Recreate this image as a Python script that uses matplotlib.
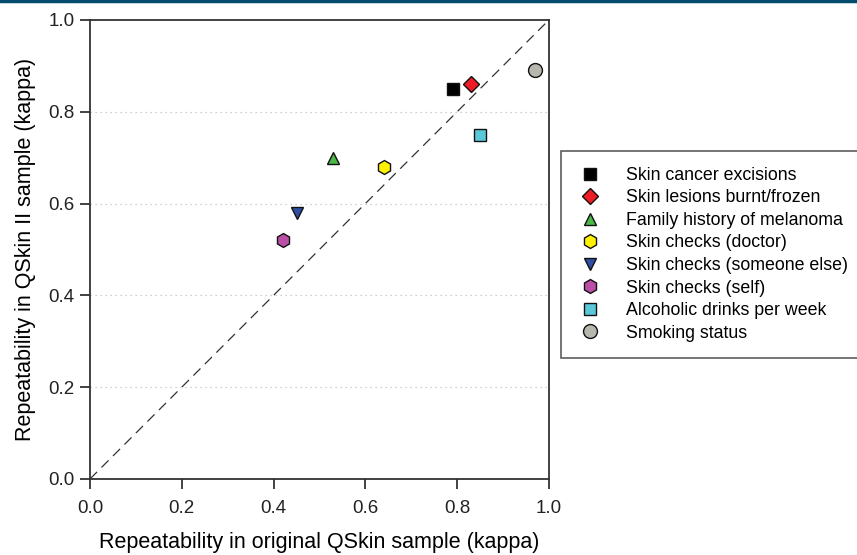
import matplotlib.pyplot as plt
from matplotlib.lines import Line2D

plt.rcParams['font.family'] = ['Liberation Sans', 'DejaVu Sans']

# --- Data ---
labels = ['Skin cancer excisions', 'Skin lesions burnt/frozen', 'Family history of melanoma',
          'Skin checks (doctor)', 'Skin checks (someone else)', 'Skin checks (self)',
          'Alcoholic drinks per week', 'Smoking status']
x_orig = [0.79, 0.83, 0.53, 0.64, 0.45, 0.42, 0.85, 0.97]
y_qskin2 = [0.85, 0.86, 0.70, 0.68, 0.58, 0.52, 0.75, 0.89]
markers = ['s', 'D', '^', 'h', 'v', 'h', 's', 'o']
colors = ['#000000', '#ee1c25', '#4cb848', '#fff200', '#2e4fa3', '#b94fa6', '#5bc8da', '#b7b7ad']
sizes = [9, 8, 9, 10, 9, 10, 9, 10]
ticks = [0.0, 0.2, 0.4, 0.6, 0.8, 1.0]

fig = plt.figure(figsize=(8.57, 5.55), dpi=100)
ax = fig.add_axes([0.105, 0.137, 0.5355, 0.827])

for t in ticks[1:-1]:
    ax.axhline(t, color='#c0c0c0', linestyle=(0, (1, 3)), linewidth=0.9, zorder=0)
ax.plot([0, 1], [0, 1], color='#333333', linestyle=(0, (8, 5)), linewidth=0.9, zorder=1)

handles = []
for xv, yv, m, c, s, lab in zip(x_orig, y_qskin2, markers, colors, sizes, labels):
    ax.plot(xv, yv, linestyle='none', marker=m, markersize=s, markerfacecolor=c,
            markeredgecolor='#111111', markeredgewidth=1.0, zorder=3, clip_on=False)
    handles.append(Line2D([], [], linestyle='none', marker=m, markersize=s, markerfacecolor=c,
                          markeredgecolor='#111111', markeredgewidth=1.0, label=lab))

ax.set_xlim(0, 1)
ax.set_ylim(0, 1)
ax.set_xticks(ticks)
ax.set_yticks(ticks)
ax.set_xticklabels([f'{t:.1f}' for t in ticks])
ax.set_yticklabels([f'{t:.1f}' for t in ticks])
ax.tick_params(direction='out', length=7, width=1.2, labelsize=13.5, colors='#222222')
ax.tick_params(axis='x', pad=8)
ax.tick_params(axis='y', pad=4)
for sp in ax.spines.values():
    sp.set_linewidth(1.3)
    sp.set_color('#333333')

ax.set_xlabel('Repeatability in original QSkin sample (kappa)', fontsize=15.5, labelpad=11)
ax.set_ylabel('Repeatability in QSkin II sample (kappa)', fontsize=15.5, labelpad=9)

leg = fig.legend(handles=handles, loc='upper left', bbox_to_anchor=(0.6546, 0.728),
                 frameon=True, fancybox=False, edgecolor='#333333', fontsize=12.8,
                 handletextpad=1.25, labelspacing=0.31, borderpad=0.9, handlelength=1.5,
                 borderaxespad=0)
leg.get_frame().set_linewidth(1.2)

# thin banner line at the very top
fig.add_artist(Line2D([0, 1], [0.998, 0.998], transform=fig.transFigure,
                      color='#004b6e', linewidth=2.5))

fig.savefig('out.png', dpi=100)
